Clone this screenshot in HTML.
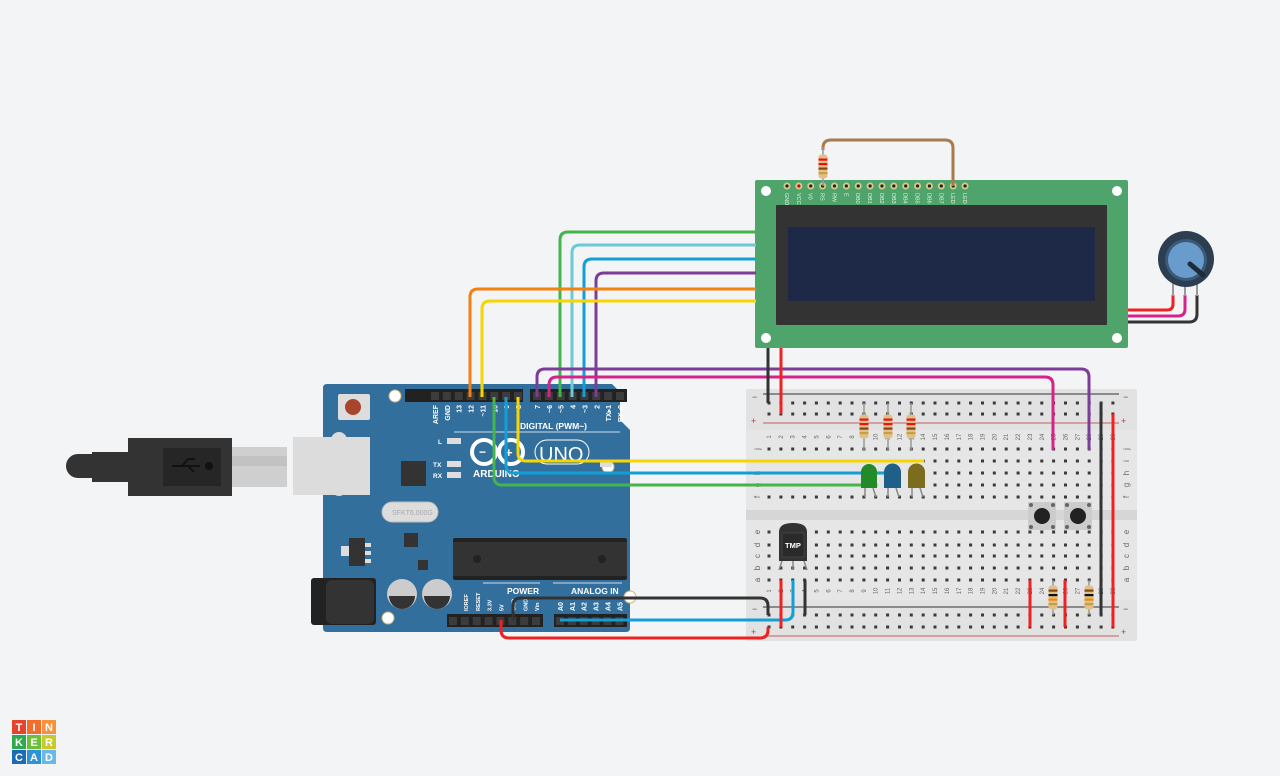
<!DOCTYPE html>
<html><head><meta charset="utf-8"><style>
html,body{margin:0;padding:0;background:#f3f4f6;}
svg{display:block;font-family:"Liberation Sans",sans-serif;}
</style></head><body>
<svg width="1280" height="776" viewBox="0 0 1280 776" xmlns="http://www.w3.org/2000/svg">
<defs>
<pattern id="h" x="765.5" y="0" width="11.86" height="1000" patternUnits="userSpaceOnUse"><rect x="2" width="3" height="1000" fill="#fff"/></pattern>
</defs>
<rect width="1280" height="776" fill="#f3f4f6"/>

<!-- BREADBOARD -->
<rect x="746" y="389" width="391" height="252" rx="2" fill="#e2e2e2"/>
<rect x="746" y="430" width="391" height="80" fill="#e6e6e6"/>
<rect x="746" y="510" width="391" height="10" fill="#d6d6d6"/>
<rect x="746" y="520" width="391" height="80" fill="#e6e6e6"/>
<line x1="763" y1="394" x2="1119" y2="394" stroke="#333" stroke-width="1"/>
<line x1="763" y1="423" x2="1119" y2="423" stroke="#c06060" stroke-width="1"/>
<line x1="763" y1="607" x2="1119" y2="607" stroke="#333" stroke-width="1"/>
<line x1="763" y1="636" x2="1119" y2="636" stroke="#c06060" stroke-width="1"/>
<g fill="#333" id="holes">
</g>
<g font-size="9" fill="#555">
<text x="752" y="400">−</text><text x="751" y="424" fill="#c33">+</text>
<text x="1123" y="400">−</text><text x="1121" y="424" fill="#c33">+</text>
<text x="752" y="612">−</text><text x="751" y="635" fill="#c33">+</text>
<text x="1123" y="612">−</text><text x="1121" y="635" fill="#c33">+</text>
</g>

<!-- LCD -->
<rect x="755" y="180" width="373" height="168" rx="2" fill="#4fa46b"/>
<circle cx="766" cy="191" r="5" fill="#fff"/><circle cx="1117" cy="191" r="5" fill="#fff"/>
<circle cx="766" cy="338" r="5" fill="#fff"/><circle cx="1117" cy="338" r="5" fill="#fff"/>
<rect x="776" y="205" width="331" height="120" rx="1" fill="#333"/>
<rect x="788" y="227" width="307" height="74" rx="1" fill="#1d2946"/>
<g id="lcdpins"></g>
<g font-size="5.5" fill="#e8f0e8" id="lcdlbl"></g>

<!-- ARDUINO -->
<path d="M323 388 Q323 384 327 384 L612 384 L620 392 L620 420 L630 430 L630 628 Q630 632 626 632 L327 632 Q323 632 323 628 Z" fill="#336f9d"/>
<circle cx="395" cy="396" r="6" fill="#fff" stroke="#c9b37a"/><circle cx="608" cy="467" r="6" fill="#fff" stroke="#c9b37a"/>
<circle cx="388" cy="618" r="6" fill="#fff" stroke="#c9b37a"/><circle cx="630" cy="597" r="6" fill="#fff" stroke="#c9b37a"/>
<rect x="338" y="394" width="32" height="26" rx="2" fill="#ddd"/><circle cx="353" cy="407" r="8" fill="#a8452c"/>
<rect x="331" y="432" width="16" height="64" rx="8" fill="#ddd"/>
<rect x="293" y="437" width="77" height="58" fill="#dcdcdc"/>
<rect x="401" y="461" width="25" height="25" fill="#333"/>
<rect x="447" y="438" width="14" height="6" fill="#ddd"/><rect x="447" y="461" width="14" height="6" fill="#ddd"/><rect x="447" y="472" width="14" height="6" fill="#ddd"/>
<g font-size="6.5" fill="#fff" font-weight="bold"><text x="438" y="444">L</text><text x="433" y="467">TX</text><text x="433" y="478">RX</text></g>
<rect x="382" y="502" width="56" height="20" rx="10" fill="#ddd" stroke="#bbb"/>
<text x="392" y="515" font-size="7" fill="#aaa">SFKT6.000G</text>
<rect x="404" y="533" width="14" height="14" fill="#333"/>
<rect x="349" y="538" width="16" height="28" fill="#333"/><rect x="341" y="546" width="8" height="10" fill="#ddd"/>
<rect x="365" y="543" width="6" height="4" fill="#ddd"/><rect x="365" y="551" width="6" height="4" fill="#ddd"/><rect x="365" y="559" width="6" height="4" fill="#ddd"/>
<rect x="418" y="560" width="10" height="10" fill="#333"/>
<rect x="311" y="578" width="65" height="47" rx="3" fill="#222"/><rect x="326" y="580" width="48" height="44" rx="6" fill="#333"/>
<circle cx="402" cy="594" r="15" fill="#ccc"/><path d="M389 596 A13 13 0 0 0 415 596 Z" fill="#333"/>
<circle cx="437" cy="594" r="15" fill="#ccc"/><path d="M424 596 A13 13 0 0 0 450 596 Z" fill="#333"/>
<rect x="453" y="538" width="174" height="42" rx="2" fill="#222"/><rect x="453" y="542" width="174" height="34" fill="#333"/>
<circle cx="477" cy="559" r="4" fill="#222"/><circle cx="602" cy="559" r="4" fill="#222"/>
<line x1="454" y1="432" x2="620" y2="432" stroke="#cde" stroke-width="1"/>
<text x="520" y="429" font-size="8.5" fill="#fff" font-weight="bold">DIGITAL (PWM~)</text>
<circle cx="484" cy="452" r="12" fill="none" stroke="#fff" stroke-width="4"/><circle cx="511" cy="452" r="12" fill="none" stroke="#fff" stroke-width="4"/>
<text x="479" y="456" font-size="12" fill="#fff" font-weight="bold">−</text><text x="505" y="457" font-size="13" fill="#fff" font-weight="bold">+</text>
<text x="473" y="477" font-size="10" fill="#fff" font-weight="bold">ARDUINO</text>
<rect x="535" y="440" width="54" height="24" rx="12" fill="none" stroke="#fff" stroke-width="1"/>
<text x="539" y="461" font-size="20" fill="#fff">UNO</text>
<rect x="600" y="462" width="12" height="5" fill="#ddd"/>
<line x1="483" y1="583" x2="540" y2="583" stroke="#cde"/><line x1="553" y1="583" x2="622" y2="583" stroke="#cde"/>
<text x="507" y="594" font-size="8.5" fill="#fff" font-weight="bold">POWER</text>
<text x="571" y="594" font-size="8.5" fill="#fff" font-weight="bold">ANALOG IN</text>
<rect x="405" y="389" width="118" height="13" fill="#222"/><rect x="530" y="389" width="97" height="13" fill="#222"/>
<rect x="447" y="614" width="96" height="13" fill="#222"/><rect x="554" y="614" width="73" height="13" fill="#222"/>
<g id="hdr" fill="#444"></g>
<g font-size="7" fill="#fff" font-weight="bold" id="alab"></g>

<!-- USB cable -->
<path d="M78 454 L92 454 L92 452 L128 452 L128 438 L232 438 L232 496 L128 496 L128 482 L92 482 L92 478 L78 478 A12 12 0 0 1 78 454Z" fill="#333"/>
<rect x="163" y="448" width="58" height="38" fill="#262626"/>
<rect x="232" y="447" width="55" height="40" fill="#cfcfcf"/><rect x="232" y="456" width="55" height="10" fill="#c2c2c2"/>
<path d="M172 466 L200 466 M182 466 L188 459 L195 459 M188 466 L194 472" stroke="#111" stroke-width="2" fill="none"/><circle cx="209" cy="466" r="4" fill="#111"/>

<!-- wires -->
<g fill="none" stroke-width="3" stroke-linejoin="round">
<path d="M560 397 V240 Q560 232 568 232 H756" stroke="#44b54a"/>
<path d="M572 397 V253 Q572 245 580 245 H756" stroke="#6cc9d8"/>
<path d="M584 397 V267 Q584 259 592 259 H756" stroke="#119fd6"/>
<path d="M596 397 V281 Q596 273 604 273 H756" stroke="#7b3d97"/>
<path d="M470 397 V297 Q470 289 478 289 H756" stroke="#f2810f"/>
<path d="M482 397 V309 Q482 301 490 301 H756" stroke="#f7d500"/>
<path d="M537 397 V377 Q537 369 545 369 H1081 Q1089 369 1089 377 V450" stroke="#7b3d97"/>
<path d="M549 397 V385 Q549 377 557 377 H1045 Q1053 377 1053 385 V450" stroke="#d4238a"/>
<path d="M494 397 V477 Q494 485 502 485 H862" stroke="#44b54a"/>
<path d="M506 397 V465 Q506 473 514 473 H887" stroke="#119fd6"/>
<path d="M518 397 V453 Q518 461 526 461 H924" stroke="#f7d500"/>
<path d="M768 348 V403" stroke="#333"/><path d="M781 348 V414" stroke="#e22"/>
<path d="M513 620 V606 Q513 598 521 598 H760 Q768 598 768 606 V615" stroke="#333"/>
<path d="M501 620 V630 Q501 638 509 638 H760 Q768 638 768 630 V627" stroke="#e22"/>
<path d="M560 620 H785 Q793 620 793 612 V580" stroke="#119fd6"/>
<path d="M781 580 V627" stroke="#e22"/><path d="M805 580 V615" stroke="#333"/>
<path d="M1101 403 V615" stroke="#333"/><path d="M1113 414 V627" stroke="#e22"/>
<path d="M1030 580 V627" stroke="#e22"/><path d="M1065 580 V627" stroke="#e22"/>
<path d="M1173 295 V304 Q1173 310 1167 310 H1128" stroke="#e22"/>
<path d="M1185 295 V309 Q1185 316 1178 316 H1128" stroke="#d4238a"/>
<path d="M1197 295 V314 Q1197 322 1189 322 H1128" stroke="#333"/>
<path d="M823 150 V148 Q823 140 831 140 H945 Q953 140 953 148 V186" stroke="#a87a4c"/>
</g>
<g fill="#333" id="pinends"></g>

<!-- components -->
<g id="res"></g>
<!-- LEDs -->
<g stroke="#888" stroke-width="1.5"><path d="M865 488 V497 M873 488 L876 497 M888 488 V497 M896 488 L899 497 M912 488 V497 M920 488 L923 497"/></g>
<path d="M861 488 V472 A8 8 0 0 1 877 472 V488 Z" fill="#238a2a"/>
<path d="M884 488 V472 A8.5 8.5 0 0 1 901 472 V488 Z" fill="#1f6089"/>
<path d="M908 488 V472 A8.5 8.5 0 0 1 925 472 V488 Z" fill="#7c6c1d"/>
<!-- buttons -->
<rect x="1028" y="502" width="28" height="28" fill="#ccc"/><circle cx="1042" cy="516" r="8" fill="#222"/>
<rect x="1064" y="502" width="28" height="28" fill="#ccc"/><circle cx="1078" cy="516" r="8" fill="#222"/>
<g fill="#666"><circle cx="1031" cy="505" r="2"/><circle cx="1053" cy="505" r="2"/><circle cx="1031" cy="527" r="2"/><circle cx="1053" cy="527" r="2"/><circle cx="1067" cy="505" r="2"/><circle cx="1089" cy="505" r="2"/><circle cx="1067" cy="527" r="2"/><circle cx="1089" cy="527" r="2"/></g>
<!-- TMP -->
<path d="M782 561 L779 570 M793 561 V570 M804 561 L807 570" stroke="#888" stroke-width="1.5"/>
<path d="M779 561 V532 Q779 523 793 523 Q807 523 807 532 V561 Z" fill="#333"/>
<rect x="782" y="533" width="22" height="24" fill="#2a2a2a" stroke="#555" stroke-width="0.5"/>
<text x="785" y="548" font-size="7.5" fill="#fff" font-weight="bold">TMP</text>
<!-- pot -->
<path d="M1173 283 V296 M1185 283 V296 M1197 283 V296" stroke="#999" stroke-width="2"/>
<circle cx="1186" cy="259" r="28" fill="#2c3e50"/>
<circle cx="1186" cy="260" r="21" fill="#3a5a7a"/>
<circle cx="1186" cy="260" r="18" fill="#6a9bcd"/>
<line x1="1190" y1="264" x2="1203" y2="275" stroke="#1d2b3a" stroke-width="5" stroke-linecap="round"/>

<!-- logo -->
<g font-size="11" font-weight="bold" fill="#fff" text-anchor="middle">
<rect x="12" y="720" width="14" height="14" fill="#e5432c"/><text x="19" y="731">T</text>
<rect x="27" y="720" width="14" height="14" fill="#f26d2b"/><text x="34" y="731">I</text>
<rect x="42" y="720" width="14" height="14" fill="#f7913b"/><text x="49" y="731">N</text>
<rect x="12" y="735" width="14" height="14" fill="#2eaa4c"/><text x="19" y="746">K</text>
<rect x="27" y="735" width="14" height="14" fill="#6bbf3a"/><text x="34" y="746">E</text>
<rect x="42" y="735" width="14" height="14" fill="#c9c92b"/><text x="49" y="746">R</text>
<rect x="12" y="750" width="14" height="14" fill="#1b6cb4"/><text x="19" y="761">C</text>
<rect x="27" y="750" width="14" height="14" fill="#2d93d6"/><text x="34" y="761">A</text>
<rect x="42" y="750" width="14" height="14" fill="#69b8e6"/><text x="49" y="761">D</text>
</g>
</svg>
<script>
var NS="http://www.w3.org/2000/svg";
function el(p,t,a,txt){var e=document.createElementNS(NS,t);for(var k in a)e.setAttribute(k,a[k]);if(txt!=null)e.textContent=txt;document.getElementById(p).appendChild(e);return e;}
var P=11.86,X0=769;
var rows=[403,414,449,461,473,485,497,532,545,556,568,580,615,627];
rows.forEach(function(y){for(var c=0;c<30;c++)el("holes","rect",{x:(X0+c*P-1.5).toFixed(1),y:y-1.5,width:3,height:3,fill:"#3a3a3a"});});
for(var c=0;c<30;c++){var x=X0+c*P;
 el("holes","text",{x:0,y:0,"font-size":6,fill:"#666",transform:"translate("+(x+2)+",437) rotate(-90)","text-anchor":"middle"},""+(c+1));
 el("holes","text",{x:0,y:0,"font-size":6,fill:"#666",transform:"translate("+(x+2)+",591) rotate(-90)","text-anchor":"middle"},""+(c+1));}
var L=["j","i","h","g","f"],L2=["e","d","c","b","a"];
L.forEach(function(s,i){var y=[449,461,473,485,497][i];
 el("holes","text",{transform:"translate(760,"+y+") rotate(-90)","font-size":8,fill:"#666","text-anchor":"middle"},s);
 el("holes","text",{transform:"translate(1129,"+y+") rotate(-90)","font-size":8,fill:"#666","text-anchor":"middle"},s);});
L2.forEach(function(s,i){var y=[532,545,556,568,580][i];
 el("holes","text",{transform:"translate(760,"+y+") rotate(-90)","font-size":8,fill:"#666","text-anchor":"middle"},s);
 el("holes","text",{transform:"translate(1129,"+y+") rotate(-90)","font-size":8,fill:"#666","text-anchor":"middle"},s);});
var lp=["GND","VCC","V0","RS","RW","E","DB0","DB1","DB2","DB3","DB4","DB5","DB6","DB7","LED","LED"];
lp.forEach(function(s,i){var x=787+i*11.87;
 el("lcdpins","circle",{cx:x,cy:186,r:3.5,fill:"#d9c98a"});el("lcdpins","circle",{cx:x,cy:186,r:1.6,fill:i==1?"#d00":"#222"});
 el("lcdlbl","text",{transform:"translate("+(x-2)+",193) rotate(90)"},s);});
// headers
function hdr(x0,n,y){for(var i=0;i<n;i++){el("hdr","rect",{x:x0+i*11.86-4,y:y-4,width:8,height:8,fill:"#3c3c3c"});}}
hdr(435,8,396);hdr(537,8,396);hdr(453,8,621);hdr(560,6,621);
var tl=["AREF","GND","13","12","~11","~10","~9","8"];
tl.forEach(function(s,i){el("alab","text",{transform:"translate("+(438+i*11.86)+",405) rotate(-90)","text-anchor":"end"},s);});
var tr=["7","~6","~5","4","~3","2","TX▸1","RX◂0"];
tr.forEach(function(s,i){el("alab","text",{transform:"translate("+(540+i*11.86)+",405) rotate(-90)","text-anchor":"end"},s);});
var bl=["IOREF","RESET","3.3V","5V","GND","GND","Vin"];
bl.forEach(function(s,i){el("alab","text",{transform:"translate("+(468+i*11.86)+",611) rotate(-90)","font-size":5.5},s);});
var al=["A0","A1","A2","A3","A4","A5"];
al.forEach(function(s,i){el("alab","text",{transform:"translate("+(563+i*11.86)+",611) rotate(-90)"},s);});
// resistors
function res(x,y1,y2,b){var m=(y1+y2)/2;
 el("res","line",{x1:x,y1:y1,x2:x,y2:y2,stroke:"#999","stroke-width":1.5});
 el("res","rect",{x:x-4.5,y:m-12,width:9,height:24,rx:3,fill:"#e0c08a"});
 b.forEach(function(c,i){el("res","rect",{x:x-4.5,y:m-8+i*4.5,width:9,height:2.2,fill:c});});}
res(864,403,450,["#e11","#e11","#8b4513","#c8a040"]);res(888,403,450,["#e11","#e11","#8b4513","#c8a040"]);res(911,403,450,["#e11","#e11","#8b4513","#c8a040"]);
res(1053,580,615,["#8b4513","#111","#f28c00","#c8a040"]);res(1089,580,615,["#8b4513","#111","#f28c00","#c8a040"]);
res(823,147,186,["#e11","#e11","#8b4513","#c8a040"]);
</script>
</body></html>
